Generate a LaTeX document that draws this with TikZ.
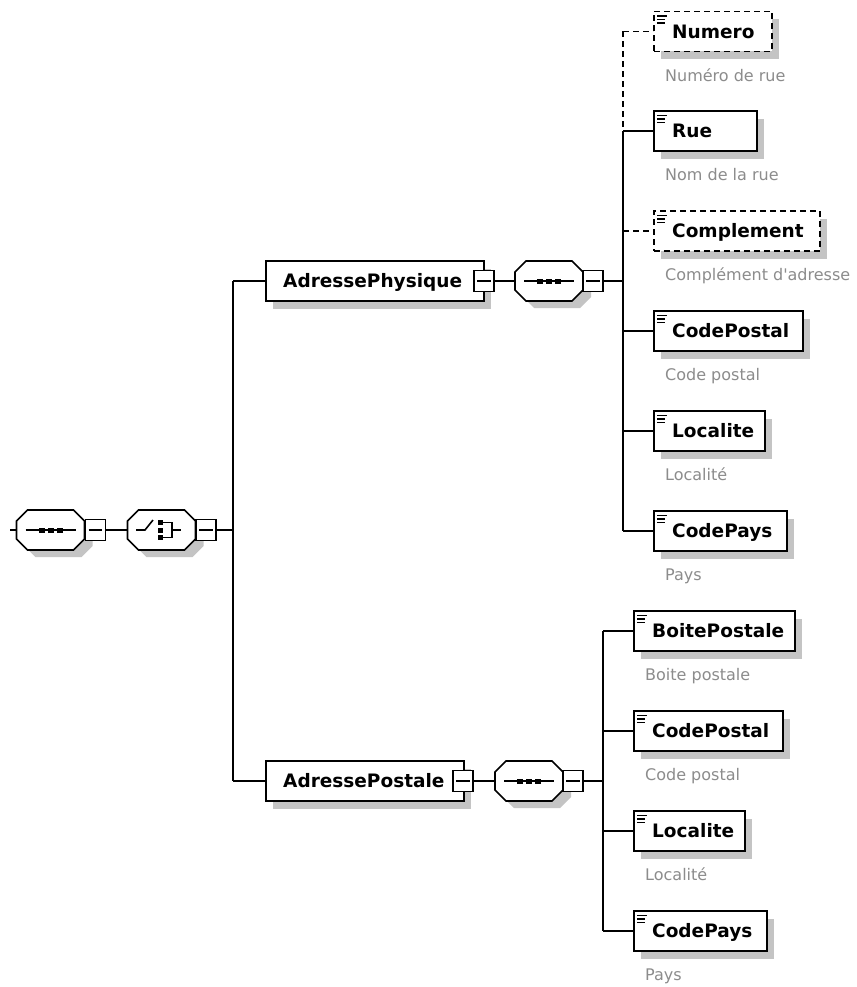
\documentclass[tikz,border=0pt]{standalone}
\usepackage{fontspec}
\setmainfont{DejaVu Sans}[Ligatures=TeXOff]
\definecolor{shadowc}{RGB}{196,196,196}
\definecolor{descc}{RGB}{140,140,140}
\tikzset{
  ln/.style={line width=1.6pt, black},
  ebox/.style={rectangle, draw, line width=1.7pt, fill=white, minimum height=40pt, inner sep=0pt},
  opt/.style={dash pattern=on 6pt off 4pt},
  etxt/.style={font=\fontsize{18.5}{20}\selectfont\bfseries, inner sep=0pt, text height=13.5pt, text depth=0pt},
  dtxt/.style={font=\fontsize{16}{18}\selectfont, text=descc, inner sep=0pt, text height=11.7pt, text depth=0pt},
  mbox/.style={rectangle, draw, line width=1.6pt, fill=white, minimum width=20pt, minimum height=21pt, inner sep=0pt},
  hook/.style={rectangle, draw=none, inner sep=0pt, minimum width=68pt, minimum height=40pt},
}
\def\octpath#1#2#3#4{(#1,#2+11) -- (#1+11,#2) -- (#3-11,#2) -- (#3,#2+11) -- (#3,#4-11) -- (#3-11,#4) -- (#1+11,#4) -- (#1,#4-11) -- cycle}
% octagon compositor: name, cx, cy
\newcommand\octa[3]{%
  \fill[shadowc] \octpath{#2-34+8}{#3-20+7}{#2+34+8}{#3+20+7};
  \draw[line width=1.6pt, fill=white] \octpath{#2-34}{#3-20}{#2+34}{#3+20};
  \node[hook] (#1) at (#2,#3) {};
}
% sequence icon
\newcommand\seqicon[2]{%
  \draw[ln] (#1-25,#2) -- (#1+25,#2);
  \fill (#1-12,#2-2.5) rectangle (#1-6,#2+2.5);
  \fill (#1-3,#2-2.5) rectangle (#1+3,#2+2.5);
  \fill (#1+6,#2-2.5) rectangle (#1+12,#2+2.5);
}
% choice icon
\newcommand\choiceicon[2]{%
  \draw[ln] (#1-25.5,#2) -- (#1-16.5,#2) -- (#1-8.5,#2-10);
  \fill (#1-3.5,#2-10) rectangle (#1+1.5,#2-5);
  \fill (#1-3.5,#2-2.5) rectangle (#1+1.5,#2+2.5);
  \fill (#1-3.5,#2+5) rectangle (#1+1.5,#2+10);
  \draw[ln] (#1+1.5,#2-7.5) -- (#1+10.5,#2-7.5) -- (#1+10.5,#2+7.5) -- (#1+1.5,#2+7.5);
  \draw[ln] (#1+10.5,#2) -- (#1+19.5,#2);
}
% minus box: name, cx, cy
\newcommand\minusb[3]{%
  \node[mbox] (#1) at (#2,#3) {};
  \draw[line width=1.5pt] ([xshift=4pt]#1.west) -- ([xshift=-4pt]#1.east);
}
% child element: name, left, cy, width, label, desc, extra style
\newcommand\elem[7]{%
  \fill[shadowc] (#2+8,#3-20+8) rectangle (#2+#4+8,#3+20+8);
  \node[ebox,#7,minimum width=#4pt,anchor=west] (#1) at (#2,#3) {};
  \draw[line width=1.5pt] (#2+4,#3-15.5) -- +(10,0) (#2+4,#3-12) -- +(8,0) (#2+4,#3-8.5) -- +(8,0);
  \node[etxt,anchor=west] (#1t) at (#2+19,#3) {#5};
  \node[dtxt,anchor=west] (#1d) at (#2+12,#3+44) {#6};
}
% parent element: name, left, cy, width, label
\newcommand\pelem[5]{%
  \fill[shadowc] (#2+8,#3-20+8) rectangle (#2+#4+8,#3+20+8);
  \node[ebox,minimum width=#4pt,anchor=west] (#1) at (#2,#3) {};
  \node[etxt,anchor=west] (#1t) at (#2+18,#3) {#5};
}
\begin{document}
\begin{tikzpicture}[x=1pt,y=-1pt]
\fill[white] (0,0) rectangle (856,987);
\useasboundingbox (0,0) rectangle (856,987);

% ---- root compositors
\octa{seqA}{50.5}{530}
\seqicon{50.5}{530}
\minusb{seqAm}{95.5}{530}
\octa{cho}{161.5}{530}
\choiceicon{161.5}{530}
\minusb{chom}{206}{530}

\coordinate (r0) at (10,530);
\coordinate (b1top) at (233,281);
\coordinate (b1mid) at (233,530);
\coordinate (b1bot) at (233,781);
\draw[ln] (r0) -- (seqA.west);
\draw[ln] (seqAm.east) -- (cho.west);
\draw[ln] (chom.east) -- (b1mid);
\draw[ln] (b1top) -- (b1bot);

% ---- AdressePhysique
\pelem{phys}{265}{281}{218}{AdressePhysique}
\draw[ln] (b1top) -- (phys.west);
\minusb{physm}{484}{281}
\octa{seqP}{549}{281}
\seqicon{549}{281}
\minusb{seqPm}{593}{281}
\coordinate (b2mid) at (623,281);
\coordinate (b2top) at (623,31.5);
\coordinate (b2r) at (623,131);
\coordinate (b2bot) at (623,531);
\draw[ln] (physm.east) -- (seqP.west);
\draw[ln] (seqPm.east) -- (b2mid);
\draw[ln,opt] (b2top) -- (b2r);
\draw[ln] (b2r) -- (b2bot);

\elem{numero}{653}{31.5}{118}{Numero}{Numéro de rue}{opt}
\elem{rue}{653}{131}{103}{Rue}{Nom de la rue}{}
\elem{compl}{653}{231}{166}{Complement}{Complément d'adresse}{opt}
\elem{cp}{653}{331}{149}{CodePostal}{Code postal}{}
\elem{loc}{653}{431}{111}{Localite}{Localité}{}
\elem{pays}{653}{531}{133}{CodePays}{Pays}{}
\draw[ln,opt] (b2top) -- (numero.west);
\draw[ln] (b2r) -- (rue.west);
\draw[ln,opt] (b2top |- compl.west) -- (compl.west);
\draw[ln] (b2top |- cp.west) -- (cp.west);
\draw[ln] (b2top |- loc.west) -- (loc.west);
\draw[ln] (b2bot) -- (pays.west);

% ---- AdressePostale
\pelem{post}{265}{781}{198}{AdressePostale}
\draw[ln] (b1bot) -- (post.west);
\minusb{postm}{463}{781}
\octa{seqQ}{529}{781}
\seqicon{529}{781}
\minusb{seqQm}{573}{781}
\coordinate (b3mid) at (603,781);
\coordinate (b3top) at (603,631);
\coordinate (b3bot) at (603,931);
\draw[ln] (postm.east) -- (seqQ.west);
\draw[ln] (seqQm.east) -- (b3mid);
\draw[ln] (b3top) -- (b3bot);

\elem{bp}{633}{631}{161}{BoitePostale}{Boite postale}{}
\elem{cp2}{633}{731}{149}{CodePostal}{Code postal}{}
\elem{loc2}{633}{831}{111}{Localite}{Localité}{}
\elem{pays2}{633}{931}{133}{CodePays}{Pays}{}
\draw[ln] (b3top) -- (bp.west);
\draw[ln] (b3top |- cp2.west) -- (cp2.west);
\draw[ln] (b3top |- loc2.west) -- (loc2.west);
\draw[ln] (b3bot) -- (pays2.west);
\end{tikzpicture}
\end{document}
